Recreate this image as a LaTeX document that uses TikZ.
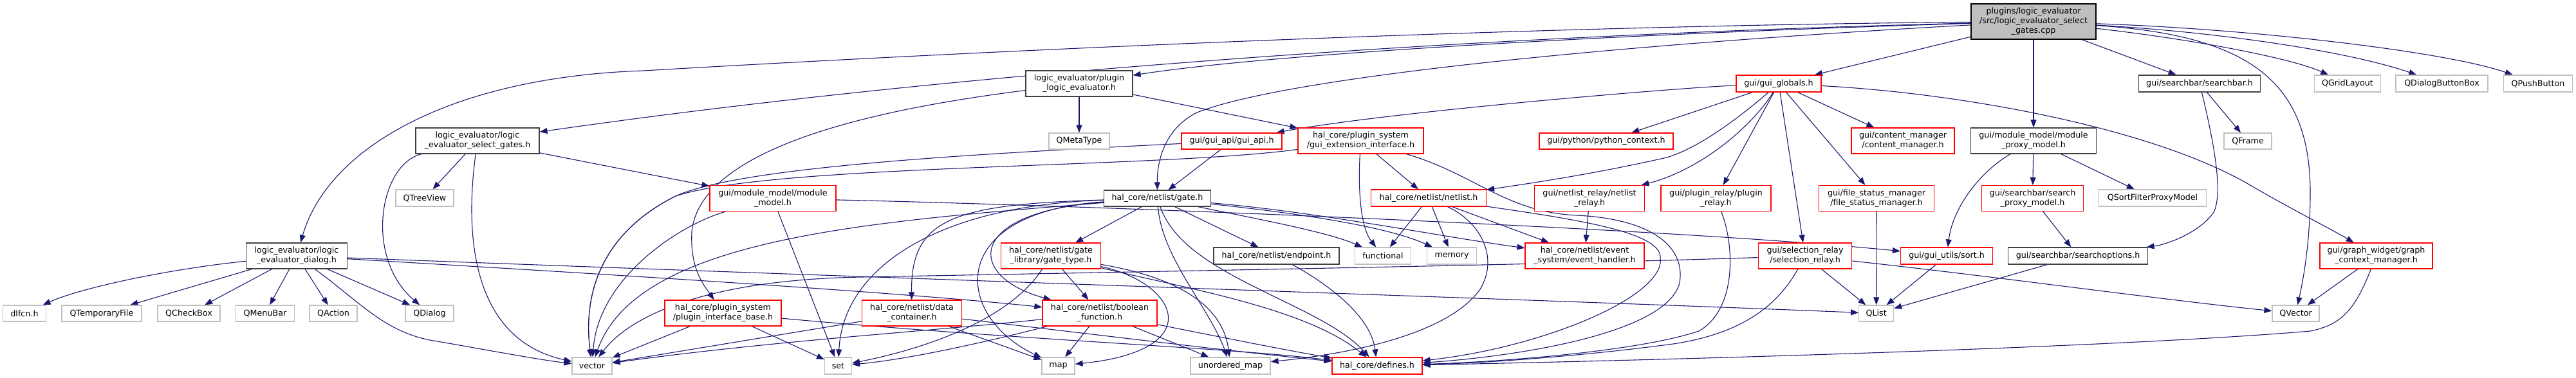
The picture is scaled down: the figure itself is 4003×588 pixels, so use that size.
\documentclass[tikz,border=0pt]{standalone}
\usepackage{fontspec}
\setmainfont{DejaVu Sans}
\usetikzlibrary{arrows.meta}
\definecolor{edgec}{HTML}{191970}
\definecolor{docc}{HTML}{404040}
\definecolor{extc}{HTML}{BFBFBF}
\definecolor{redc}{HTML}{FF0000}
\pgfdeclarelayer{bg}
\pgfsetlayers{bg,main}
\begin{document}
\begin{tikzpicture}[x=1pt,y=-1pt,
  nd/.style={draw, line width=1.2pt, inner sep=0pt, align=center, fill=white,
    font=\fontsize{12.7}{15}\selectfont},
  doc/.style={nd, draw=docc},
  trunc/.style={nd, draw=redc},
  ext/.style={nd, draw=extc},
  rootnd/.style={nd, draw=black, fill=extc},
  sz/.style n args={2}{minimum width=#1pt, minimum height=#2pt},
  e/.style={draw=edgec, line width=1.1pt, -{Triangle[length=12pt,width=9pt]}}]
\useasboundingbox (0,0) rectangle (4003,588);
% ---------------- nodes ----------------
\node[rootnd, sz={194}{55}] (root) at (3160,33.5) {plugins/logic\_evaluator\\/src/logic\_evaluator\_select\\\_gates.cpp};
\node[doc, sz={166}{40}] (ple) at (1677,130) {logic\_evaluator/plugin\\\_logic\_evaluator.h};
\node[ext, sz={94}{25}] (qmeta) at (1677,219.5) {QMetaType};
\node[trunc, sz={156}{25}] (guiapi) at (1914,219.5) {gui/gui\_api/gui\_api.h};
\node[doc, sz={166}{25}] (gate) at (1798.5,308.5) {hal\_core/netlist/gate.h};
\node[doc, sz={192}{40}] (selg) at (742,219) {logic\_evaluator/logic\\\_evaluator\_select\_gates.h};
\node[ext, sz={90}{26}] (qtree) at (660,308) {QTreeView};
\node[doc, sz={157}{40}] (dlg) at (461,398) {logic\_evaluator/logic\\\_evaluator\_dialog.h};
\node[ext, sz={66.6}{25}] (dlfcn) at (38,487.5) {dlfcn.h};
\node[ext, sz={124}{25}] (qtemp) at (158,487.5) {QTemporaryFile};
\node[ext, sz={97}{25}] (qcheck) at (293.5,487.5) {QCheckBox};
\node[ext, sz={90.5}{25}] (qmenu) at (412,487.5) {QMenuBar};
\node[ext, sz={74}{25}] (qaction) at (518,487.5) {QAction};
\node[ext, sz={75}{25}] (qdialog) at (667.5,487.5) {QDialog};
\node[ext, sz={62}{26}] (vector) at (920,569) {vector};
\node[ext, sz={42}{26}] (set) at (1302.5,569) {set};
\node[trunc, sz={181}{40}] (pib) at (1123.5,487) {hal\_core/plugin\_system\\/plugin\_interface\_base.h};
\node[trunc, sz={196}{40}] (mm) at (1201,308.7) {gui/module\_model/module\\\_model.h};
\node[trunc, sz={155}{40}] (gt) at (1633,398) {hal\_core/netlist/gate\\\_library/gate\_type.h};
\node[doc, sz={195}{26}] (ep) at (1983.5,398) {hal\_core/netlist/endpoint.h};
\node[trunc, sz={155}{40}] (dc) at (1417,487) {hal\_core/netlist/data\\\_container.h};
\node[trunc, sz={178}{40}] (bf) at (1709,487) {hal\_core/netlist/boolean\\\_function.h};
\node[ext, sz={51}{26}] (map) at (1644.5,569) {map};
\node[ext, sz={124}{26}] (umap) at (1912,569) {unordered\_map};
\node[trunc, sz={140}{26}] (def) at (2140,569) {hal\_core/defines.h};
\node[ext, sz={86.5}{26}] (func) at (2149,398) {functional};
\node[ext, sz={77}{26}] (mem) at (2256,398) {memory};
\node[trunc, sz={185}{40}] (evh) at (2462.5,398) {hal\_core/netlist/event\\\_system/event\_handler.h};
\node[trunc, sz={179}{26}] (nl) at (2220,308) {hal\_core/netlist/netlist.h};
\node[trunc, sz={195}{40}] (gei) at (2114.5,219) {hal\_core/plugin\_system\\/gui\_extension\_interface.h};
\node[trunc, sz={208}{25}] (pyc) at (2496,219.5) {gui/python/python\_context.h};
\node[trunc, sz={132}{26}] (gg) at (2764,130) {gui/gui\_globals.h};
\node[trunc, sz={171.5}{40}] (nr) at (2470,308.5) {gui/netlist\_relay/netlist\\\_relay.h};
\node[trunc, sz={171}{40}] (pr) at (2666.5,308.5) {gui/plugin\_relay/plugin\\\_relay.h};
\node[trunc, sz={178.5}{40}] (fsm) at (2916,308.5) {gui/file\_status\_manager\\/file\_status\_manager.h};
\node[trunc, sz={160}{40}] (cm) at (2957,219) {gui/content\_manager\\/content\_manager.h};
\node[doc, sz={195.5}{40}] (mpm) at (3160,219) {gui/module\_model/module\\\_proxy\_model.h};
\node[trunc, sz={157.5}{40}] (spm) at (3158.5,308.5) {gui/searchbar/search\\\_proxy\_model.h};
\node[ext, sz={167.5}{26}] (qsfpm) at (3345,308) {QSortFilterProxyModel};
\node[trunc, sz={145.6}{40}] (sr) at (2805,398) {gui/selection\_relay\\/selection\_relay.h};
\node[trunc, sz={143}{26}] (sort) at (3025,398) {gui/gui\_utils/sort.h};
\node[doc, sz={217}{26}] (so) at (3229,398) {gui/searchbar/searchoptions.h};
\node[ext, sz={54}{25}] (qlist) at (2915.6,487.5) {QList};
\node[doc, sz={189.5}{26}] (sb) at (3418,130) {gui/searchbar/searchbar.h};
\node[ext, sz={102.5}{26}] (qgrid) at (3648,130) {QGridLayout};
\node[ext, sz={143}{26}] (qdbb) at (3794.5,130) {QDialogButtonBox};
\node[ext, sz={106.5}{26}] (qpush) at (3944,130) {QPushButton};
\node[ext, sz={74}{25}] (qframe) at (3493,219.5) {QFrame};
\node[trunc, sz={175}{40}] (gcm) at (3692.5,398) {gui/graph\_widget/graph\\\_context\_manager.h};
\node[ext, sz={73}{25}] (qvector) at (3567.5,487.5) {QVector};
% ---------------- edges ----------------
\begin{pgfonlayer}{bg}
% root
\draw[e] (root) .. controls (2600,50) and (2000,80) .. (ple);
\draw[e] (root) .. controls (2300,55) and (1500,110) .. (selg);
\draw[e] (root) .. controls (2400,40) and (1600,75) .. (1000,110) .. controls (700,120) and (510,230) .. (dlg);
\draw[e] (root) .. controls (2500,70) and (2000,120) .. (1860,175) .. controls (1810,200) and (1798,250) .. (gate);
\draw[e] (root) -- (gg);
\draw[e] (root) -- (mpm);
\draw[e] (root) -- (sb);
\draw[e] (root) .. controls (3400,60) and (3560,90) .. (qgrid);
\draw[e] (root) .. controls (3450,50) and (3650,80) .. (qdbb);
\draw[e] (root) .. controls (3500,45) and (3800,80) .. (qpush);
\draw[e] (root) .. controls (3500,55) and (3590,130) .. (3590,300) .. controls (3590,380) and (3578,440) .. (qvector);
% plugin_logic_evaluator
\draw[e] (ple) -- (qmeta);
\draw[e] (ple) -- (gei);
\draw[e] (ple) .. controls (1400,165) and (1090,220) .. (1075,360) .. controls (1072,420) and (1095,445) .. (pib);
% select_gates
\draw[e] (selg) -- (mm);
\draw[e] (selg) -- (qtree);
\draw[e] (selg) .. controls (720,380) and (740,530) .. (vector);
\draw[e] (selg) .. controls (590,255) and (565,400) .. (qdialog);
% dialog
\draw[e] (dlg) .. controls (250,420) and (120,450) .. (dlfcn);
\draw[e] (dlg) -- (qtemp);
\draw[e] (dlg) -- (qcheck);
\draw[e] (dlg) -- (qmenu);
\draw[e] (dlg) -- (qaction);
\draw[e] (dlg) -- (qdialog);
\draw[e] (dlg) .. controls (560,470) and (600,520) .. (680,531) .. controls (760,545) and (840,560) .. (vector);
\draw[e] (dlg) .. controls (1300,430) and (2500,470) .. (qlist);
\draw[e] (dlg) .. controls (1000,430) and (1400,455) .. (bf);
% gui_api
\draw[e] (guiapi) -- (gate);
\draw[e] (guiapi) .. controls (1500,240) and (1150,260) .. (1050,305) .. controls (940,360) and (905,450) .. (vector);
% gui_extension_interface
\draw[e] (gei) .. controls (1800,262) and (1200,255) .. (1050,305) .. controls (940,360) and (905,450) .. (vector);
\draw[e] (gei) -- (nl);
\draw[e] (gei) .. controls (2110,300) and (2115,355) .. (func);
\draw[e] (gei) .. controls (2290,270) and (2340,330) .. (2450,335) .. controls (2560,340) and (2620,380) .. (2610,440) .. controls (2590,520) and (2350,555) .. (def);
% netlist
\draw[e] (nl) -- (func);
\draw[e] (nl) -- (mem);
\draw[e] (nl) -- (evh);
\draw[e] (nl) .. controls (2300,345) and (2330,400) .. (2300,450) .. controls (2250,520) and (2100,550) .. (umap);
\draw[e] (nl) .. controls (2440,340) and (2580,360) .. (2580,400) .. controls (2590,460) and (2400,540) .. (def);
% gate
\draw[e] (gate) -- (gt);
\draw[e] (gate) -- (ep);
\draw[e] (gate) .. controls (1480,318) and (1415,340) .. (dc);
\draw[e] (gate) .. controls (1500,330) and (1500,430) .. (bf);
\draw[e] (gate) .. controls (1470,330) and (1480,490) .. (map);
\draw[e] (gate) .. controls (1805,400) and (1880,480) .. (umap);
\draw[e] (gate) .. controls (1450,320) and (1310,420) .. (set);
\draw[e] (gate) .. controls (1350,345) and (990,370) .. (vector);
\draw[e] (gate) .. controls (1950,340) and (2060,360) .. (func);
\draw[e] (gate) .. controls (2000,330) and (2150,350) .. (mem);
\draw[e] (gate) .. controls (2050,330) and (2250,370) .. (evh);
\draw[e] (gate) .. controls (1840,430) and (2050,470) .. (def);
% gate_type
\draw[e] (gt) -- (bf);
\draw[e] (gt) .. controls (1560,510) and (1400,550) .. (set);
\draw[e] (gt) .. controls (1830,440) and (1880,545) .. (map);
\draw[e] (gt) .. controls (1820,430) and (1900,470) .. (umap);
\draw[e] (gt) .. controls (1850,450) and (2030,480) .. (def);
% boolean_function
\draw[e] (bf) -- (map);
\draw[e] (bf) -- (umap);
\draw[e] (bf) .. controls (1450,515) and (1200,530) .. (vector);
\draw[e] (bf) .. controls (1500,540) and (1400,560) .. (set);
\draw[e] (bf) .. controls (1900,525) and (2000,545) .. (def);
% data_container
\draw[e] (dc) -- (vector);
\draw[e] (dc) -- (map);
\draw[e] (dc) .. controls (1700,520) and (1900,545) .. (def);
% plugin_interface_base
\draw[e] (pib) -- (vector);
\draw[e] (pib) -- (set);
\draw[e] (pib) .. controls (1600,530) and (1900,540) .. (def);
% module_model
\draw[e] (mm) .. controls (1060,348) and (930,430) .. (vector);
\draw[e] (mm) -- (set);
\draw[e] (mm) .. controls (1700,320) and (2600,355) .. (sort);
% gui_globals
\draw[e] (gg) .. controls (2600,137) and (2150,175) .. (guiapi);
\draw[e] (gg) -- (pyc);
\draw[e] (gg) .. controls (2700,185) and (2640,230) .. (2590,245) .. controls (2480,270) and (2380,285) .. (nl);
\draw[e] (gg) .. controls (2720,200) and (2640,265) .. (nr);
\draw[e] (gg) -- (pr);
\draw[e] (gg) -- (sr);
\draw[e] (gg) -- (fsm);
\draw[e] (gg) -- (cm);
\draw[e] (gg) .. controls (3050,145) and (3350,200) .. (3500,290) .. controls (3560,325) and (3620,355) .. (gcm);
% module_proxy_model
\draw[e] (mpm) -- (spm);
\draw[e] (mpm) -- (qsfpm);
\draw[e] (mpm) .. controls (3080,265) and (3035,320) .. (sort);
% searchbar
\draw[e] (spm) -- (so);
\draw[e] (sb) -- (qframe);
\draw[e] (sb) .. controls (3440,220) and (3455,300) .. (3440,330) .. controls (3420,360) and (3370,380) .. (so);
% into QList
\draw[e] (sort) -- (qlist);
\draw[e] (so) -- (qlist);
\draw[e] (sr) -- (qlist);
\draw[e] (fsm) -- (qlist);
% selection_relay
\draw[e] (sr) .. controls (3100,430) and (3350,465) .. (qvector);
\draw[e] (sr) .. controls (2400,412) and (1800,422) .. (1340,431) .. controls (1100,435) and (980,490) .. (vector);
\draw[e] (sr) .. controls (2760,480) and (2700,520) .. (2600,535) .. controls (2450,555) and (2300,565) .. (def);
% plugin_relay
\draw[e] (pr) .. controls (2695,380) and (2700,480) .. (2640,515) .. controls (2550,545) and (2350,562) .. (def);
% graph_context_manager
\draw[e] (gcm) .. controls (3660,480) and (3640,505) .. (3590,515) .. controls (3300,540) and (2600,560) .. (def);
\draw[e] (gcm) -- (qvector);
% others
\draw[e] (nr) -- (evh);
\draw[e] (ep) .. controls (2060,440) and (2130,490) .. (def);
\end{pgfonlayer}
\end{tikzpicture}
\end{document}
